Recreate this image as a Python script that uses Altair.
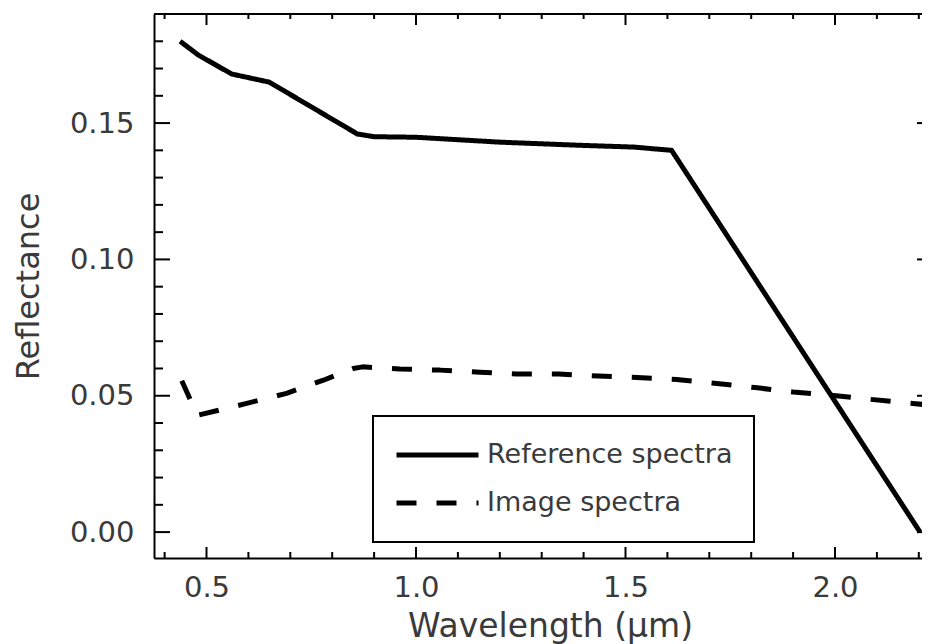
import altair as alt
import pandas as pd

# ---- data ----
ref_wl = [0.437, 0.48, 0.56, 0.65, 0.86, 0.90, 1.0, 1.2, 1.4, 1.52, 1.61, 2.203]
ref_val = [0.180, 0.175, 0.168, 0.165, 0.146, 0.145, 0.1448, 0.143, 0.1418, 0.1412, 0.1400, 0.0]

img_wl = [0.441, 0.478, 0.524, 0.596, 0.691, 0.779, 0.850, 0.873, 0.962, 1.057, 1.153,
          1.24, 1.34, 1.435, 1.527, 1.622, 1.718, 1.809, 1.90, 1.988, 2.083, 2.186, 2.21]
img_val = [0.0555, 0.0428, 0.0445, 0.0472, 0.0509, 0.0557, 0.0600, 0.0606, 0.0598, 0.0594, 0.0586,
           0.0580, 0.0580, 0.0572, 0.0567, 0.0560, 0.0545, 0.0530, 0.0514, 0.0502, 0.0487, 0.0472, 0.0468]

series_names = ["Reference spectra", "Image spectra"]

x_major = [0.5, 1.0, 1.5, 2.0]
x_minor = [0.4, 0.6, 0.7, 0.8, 0.9, 1.1, 1.2, 1.3, 1.4, 1.6, 1.7, 1.8, 1.9, 2.1, 2.2]
y_major = [0.0, 0.05, 0.10, 0.15]
y_minor = [0.01, 0.02, 0.03, 0.04, 0.06, 0.07, 0.08, 0.09, 0.11, 0.12, 0.13, 0.14, 0.16, 0.17, 0.18]

W, H = 768, 544
FONT = "DejaVu Sans"
TXT = "#3a3a3a"

df = pd.concat([
    pd.DataFrame({"wl": ref_wl, "refl": ref_val, "series": series_names[0]}),
    pd.DataFrame({"wl": img_wl, "refl": img_val, "series": series_names[1]}),
])

x_scale = alt.Scale(domain=[0.3747, 0.3747 + W / 419.0], nice=False, zero=False)
y_scale = alt.Scale(domain=[-0.0095, 0.19], nice=False, zero=False)

x_axis = alt.Axis(title="Wavelength (µm)", values=x_major, format=".1f", ticks=False, grid=False,
                  domain=True, domainColor="black", domainWidth=2,
                  labelFont=FONT, labelFontSize=29, labelColor=TXT, labelPadding=15,
                  titleFont=FONT, titleFontSize=33, titleFontWeight="normal", titleColor=TXT,
                  titlePadding=8, titleX=396, titleAlign="center")
y_axis = alt.Axis(title="Reflectance", values=y_major, format=".2f", ticks=False, grid=False,
                  domain=True, domainColor="black", domainWidth=2,
                  labelFont=FONT, labelFontSize=29, labelColor=TXT, labelPadding=20,
                  titleFont=FONT, titleFontSize=32, titleFontWeight="normal", titleColor=TXT,
                  titlePadding=24)

lines = alt.Chart(df).mark_line(strokeWidth=5, color="black", strokeCap="butt", strokeJoin="round").encode(
    x=alt.X("wl:Q", scale=x_scale, axis=x_axis),
    y=alt.Y("refl:Q", scale=y_scale, axis=y_axis),
    strokeDash=alt.StrokeDash(
        "series:N",
        scale=alt.Scale(domain=series_names, range=[[1, 0], [20, 20]]),
        legend=alt.Legend(title=None, orient="none", legendX=219, legendY=402,
                          strokeColor="black", fillColor="white", padding=21,
                          clipHeight=36, rowPadding=12, symbolType="stroke",
                          symbolSize=6724, symbolStrokeWidth=5, symbolStrokeColor="black",
                          labelFont=FONT, labelFontSize=27, labelColor=TXT,
                          labelOffset=6, labelLimit=500),
    ),
)

def xticks(vals, y_from, y_to):
    return alt.Chart(pd.DataFrame({"v": vals})).mark_rule(color="black", strokeWidth=2).encode(
        x=alt.X("v:Q", scale=x_scale, axis=x_axis),
        y=alt.value(y_from), y2=alt.value(y_to))

def yticks(vals, x_from, x_to):
    return alt.Chart(pd.DataFrame({"v": vals})).mark_rule(color="black", strokeWidth=2).encode(
        y=alt.Y("v:Q", scale=y_scale, axis=y_axis),
        x=alt.value(x_from), x2=alt.value(x_to))

# top frame line of the plot box
top_frame = alt.Chart(pd.DataFrame({"a": [0]})).mark_rule(color="black", strokeWidth=2).encode(
    x=alt.value(0), x2=alt.value(W), y=alt.value(0))

layers = [
    lines,
    top_frame,
    xticks(x_major, H, H - 11),
    xticks(x_minor, H, H - 6),
    xticks(x_major, 0, 11),
    xticks(x_minor, 0, 5),
    yticks(y_major, 0, 16),
    yticks(y_minor, 0, 9),
    yticks(y_major, W, W - 5),
]

chart = alt.layer(*layers).properties(
    width=W, height=H,
    autosize=alt.AutoSizeParams(type="none"),
    padding={"left": 146, "top": 6, "right": 0, "bottom": 86},
).configure_view(stroke=None).configure_legend(strokeWidth=2)

chart.save("out.html", embed_options={"renderer": "svg", "actions": False})
